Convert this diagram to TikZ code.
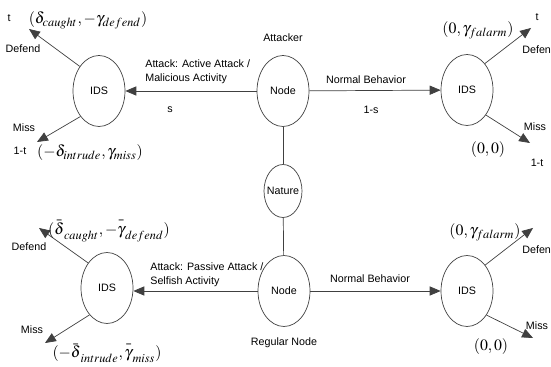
\documentclass[tikz,border=0pt]{standalone}
\usepackage{mathptmx}
\usepackage{fontspec}
\setmainfont{Liberation Sans}
\usepackage{tikz}
\usetikzlibrary{arrows,shapes}

\newcommand{\highbar}[1]{\bar{\mathstrut#1}}

\begin{document}
\begin{tikzpicture}[x=0.02cm,y=-0.02cm,font=\fontsize{6.1}{8.2}\selectfont]
    \tikzstyle{circ}=[draw=black!75,ellipse,minimum width=1.04cm,minimum height=1.42cm,inner sep=0pt]
    \tikzstyle{pay}=[font=\fontsize{9}{11}\selectfont,inner sep=0pt]
    \tikzstyle{edge}=[draw=black!75,-triangle 45]
    \tikzstyle{lbl}=[inner sep=0pt]
    \useasboundingbox (0,0) rectangle (551,367);

    \node[circ] (atk) at (283,91) {Node};
    \node[circ,minimum width=0.76cm,minimum height=1.06cm] (nat) at (283,191) {\makebox[0pt]{Nature}};
    \node[circ] (reg) at (284,291) {Node};
    \node[circ] (idsA) at (99,91) {IDS};
    \node[circ] (idsB) at (467,90) {IDS};
    \node[circ] (idsC) at (107,288) {IDS};
    \node[circ] (idsD) at (467,291) {IDS};

    \coordinate (defA) at (29,29);
    \coordinate (misA) at (37,142);
    \coordinate (defB) at (531,28);
    \coordinate (misB) at (530,143);
    \coordinate (defC) at (39,228);
    \coordinate (misC) at (45,343);
    \coordinate (defD) at (533,228);
    \coordinate (misD) at (533,338);

    \draw[draw=black!75] (atk) -- (nat);
    \draw[draw=black!75] (nat) -- (reg);
    \draw[edge] (atk) -- (idsA);
    \draw[edge] (atk) -- (idsB);
    \draw[edge] (reg) -- (idsC.east |- reg);
    \draw[edge] (reg) -- (idsD);
    \draw[edge] (idsA.128) -- (defA);
    \draw[edge] (idsA.234) -- (misA);
    \draw[edge] (idsB.56) -- (defB);
    \draw[edge] (idsB.307) -- (misB);
    \draw[edge] (idsC.127) -- (defC);
    \draw[edge] (idsC.237) -- (misC);
    \draw[edge] (idsD.55) -- (defD);
    \draw[edge] (idsD.309) -- (misD);

    \node[lbl] (attacker) at (283,38) {Attacker};
    \node[lbl] (regular) at (284,343) {Regular Node};
    \node[lbl,anchor=west,align=left] (active) at (145,72) {Attack: Active Attack /\\Malicious Activity};
    \node[lbl] (s) at (170,110) {s};
    \node[lbl] (normA) at (366,80) {Normal Behavior};
    \node[lbl] (ones) at (371,110) {1-s};
    \node[lbl,anchor=west,align=left] (passive) at (150,275) {Attack: Passive Attack /\\Selfish Activity};
    \node[lbl] (normB) at (370,279) {Normal Behavior};

    \node[lbl] (tA) at (9,18) {t};
    \node[lbl] (dA) at (23,49) {Defend};
    \node[lbl] (mA) at (24,128) {Miss};
    \node[lbl] (ntA) at (20,151) {1-t};
    \node[pay] (pA) at (88,20) {$(\delta_{caught},-\gamma_{defend})$};
    \node[pay] (qA) at (90,153) {$(-\delta_{intrude},\gamma_{miss})$};

    \node[lbl] (tB) at (537,17) {t};
    \node[lbl,anchor=west] (dB) at (522,50) {Defend};
    \node[lbl] (mB) at (535,127) {Miss};
    \node[lbl] (ntB) at (537,163) {1-t};
    \node[pay] (pB) at (478,30) {$(0,\gamma_{falarm})$};
    \node[pay] (qB) at (488,150) {$(0,0)$};

    \node[lbl] (dC) at (29,247) {Defend};
    \node[lbl] (mC) at (32,330) {Miss};
    \node[pay] (pC) at (109,231) {$(\highbar{\delta}_{caught},-\highbar{\gamma}_{defend})$};
    \node[pay] (qC) at (107,353) {$(-\highbar{\delta}_{intrude},\highbar{\gamma}_{miss})$};

    \node[pay] (pD) at (485,232) {$(0,\gamma_{falarm})$};
    \node[lbl,anchor=west] (dD) at (522,250) {Defend};
    \node[lbl] (mD) at (537,326) {Miss};
    \node[pay] (qD) at (491,347) {$(0,0)$};
  \end{tikzpicture}
\end{document}
